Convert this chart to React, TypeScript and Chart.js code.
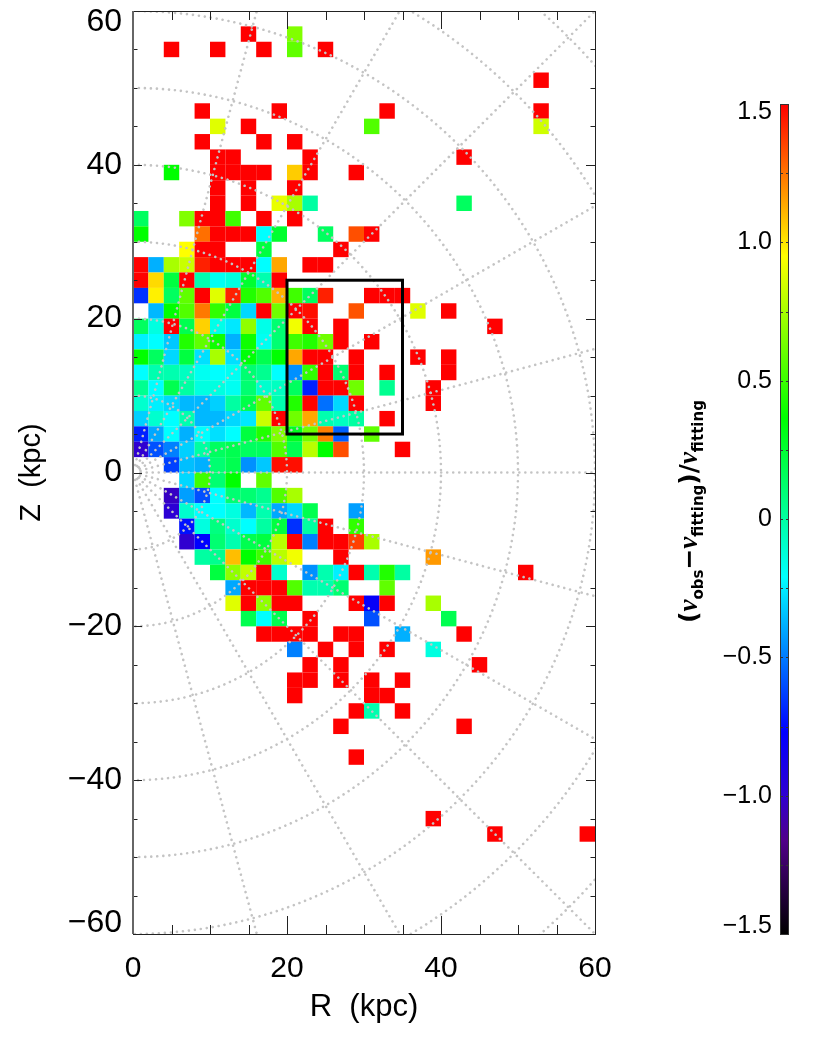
import React, { useEffect, useRef } from "react";
import Chart from "chart.js/auto";

// Each row: Z centre (kpc), then pairs [R centre, residual]
const X = 1.5; // saturated residual
const rowZ = [57,55,51,47,45,43,41,39,37,35,33,31,29,27,25,23,21,19,17,15,13,11,9,7,5,3,1,-1,-3,-5,-7,-9,-11,-13,-15,-17,-19,-21,-23,-25,-27,-29,-31,-33,-37,-45,-47];
const rowCells: number[][][] = [
  [[15,X],[21,.66]],
  [[5,X],[11,X],[17,X],[21,.585],[25,X]],
  [[53,X]],
  [[9,X],[19,X],[33,X],[53,X]],
  [[11,.88],[15,X],[31,.55],[53,.84]],
  [[9,X],[17,X],[21,X]],
  [[11,X],[13,X],[23,X],[43,X]],
  [[5,.365],[11,X],[13,X],[15,X],[17,X],[21,1.06],[23,X],[29,X]],
  [[11,X],[15,X],[21,X]],
  [[11,X],[15,X],[19,.9],[21,.75],[23,0],[43,.15]],
  [[1,.15],[7,.66],[9,X],[11,X],[13,.51],[17,X],[21,X]],
  [[1,.365],[9,1.26],[11,X],[13,X],[15,X],[17,-.21],[19,.26],[25,.15],[29,1.33],[31,X]],
  [[7,.95],[9,X],[11,X],[17,.22],[27,X]],
  [[1,X],[3,-.383],[5,.75],[7,.825],[9,1.43],[11,X],[13,X],[15,X],[17,-.21],[19,1.14],[23,X],[25,X]],
  [[1,X],[3,1.03],[5,.22],[7,X],[9,-.03],[11,-.18],[13,-.14],[15,.257],[17,-.03],[19,X]],
  [[1,-.664],[3,.98],[5,.15],[7,.585],[9,X],[11,.88],[13,1.43],[15,.44],[17,.55],[19,1.12],[21,.51],[23,.15],[25,1.43],[31,X],[33,X],[35,X]],
  [[3,-.366],[5,.365],[7,.55],[9,1.24],[11,.475],[13,.22],[15,-.296],[17,X],[19,.62],[21,X],[23,1.47],[29,1.32],[37,.88],[41,X]],
  [[1,.15],[3,-.14],[5,X],[7,.185],[9,1.05],[11,-.16],[13,-.26],[15,.695],[17,-.16],[19,.11],[21,.92],[23,X],[27,X],[47,X]],
  [[1,-.24],[3,-.21],[5,-.33],[7,.44],[9,.585],[11,.4],[13,-.383],[15,.4],[17,-.18],[19,.11],[21,.51],[23,.44],[25,.62],[27,X],[31,X]],
  [[1,.365],[3,.15],[5,-.296],[7,.22],[9,-.278],[11,.75],[13,-.278],[15,.35],[17,.185],[19,.365],[21,1.14],[23,X],[25,X],[29,X],[37,X],[41,X]],
  [[1,-.21],[3,-.03],[5,-.03],[7,-.07],[9,-.18],[11,-.21],[13,-.18],[15,.11],[17,.04],[19,-.21],[21,-.454],[23,.475],[25,X],[27,.11],[29,X],[33,X],[41,X]],
  [[1,.04],[3,-.21],[5,.185],[7,0],[9,-.14],[11,-.14],[13,-.18],[15,.11],[17,-.1],[19,-.07],[21,.15],[23,-.7],[25,X],[27,X],[29,.62],[33,.04],[39,X]],
  [[1,-.1],[3,-.243],[5,-.296],[7,-.366],[9,-.366],[11,-.313],[13,0],[15,.2],[17,.585],[19,-.03],[21,.44],[23,X],[25,-.524],[27,-.296],[29,X],[39,X]],
  [[1,-.313],[3,-.1],[5,-.21],[7,-.03],[9,-.366],[11,-.366],[13,-.296],[15,-.26],[17,.825],[19,X],[21,.62],[23,1.14],[25,-.03],[27,-.07],[29,0],[33,X]],
  [[1,-.7],[3,-.4],[5,-.21],[7,-.383],[9,-.21],[11,-.278],[13,-.21],[15,.22],[17,.44],[19,.66],[21,.29],[23,.62],[25,1.225],[27,-.559],[31,.585]],
  [[1,-1],[3,-.594],[5,-.489],[7,-.313],[9,0],[11,.15],[13,.185],[15,.15],[17,.15],[19,.55],[21,.185],[23,.79],[25,.365],[27,1.33],[35,X]],
  [[5,-.63],[7,-.35],[9,-.383],[11,.11],[13,.185],[15,-.454],[17,-.33],[19,1.47],[21,1.47]],
  [[7,-.296],[9,.51],[11,.11],[13,.365],[17,.585]],
  [[5,-1.03],[7,-.42],[9,-.594],[11,-.21],[13,.11],[15,.11],[17,.04],[19,.55],[21,.75]],
  [[5,-.98],[7,-.1],[9,-.21],[11,-.21],[13,-.14],[15,-.366],[17,-.03],[19,-.4],[21,-.296],[23,.185],[29,-.42]],
  [[7,-.735],[9,-.14],[11,.077],[13,-.1],[15,-.21],[17,0],[19,.22],[21,-.664],[23,0],[25,X],[29,.475]],
  [[7,-1],[9,-.77],[11,.11],[13,-.03],[15,.185],[17,.22],[19,.79],[21,X],[23,-.489],[25,X],[27,X],[29,1.36],[31,.75]],
  [[9,0],[11,.04],[13,1.09],[15,.365],[17,.51],[19,.79],[21,.92],[27,X],[39,1.17]],
  [[11,.22],[13,.695],[15,.805],[17,X],[19,-.1],[23,-.454],[25,-.03],[27,-.243],[29,X],[31,-.03],[33,.44],[35,0],[51,X]],
  [[13,-.4],[15,X],[17,X],[19,X],[21,.55],[23,-.03],[25,-.03],[27,.11],[33,.585]],
  [[13,.88],[15,X],[17,.695],[19,X],[21,X],[29,X],[31,-.8],[33,X],[39,.75]],
  [[15,.185],[17,-.21],[19,.185],[23,X],[31,-.594],[41,.185]],
  [[17,X],[19,X],[21,X],[23,X],[27,X],[29,X],[35,-.383],[43,X]],
  [[21,-.489],[25,X],[29,X],[33,X],[39,-.14]],
  [[23,X],[27,X],[45,X]],
  [[21,X],[23,X],[27,X],[31,X],[35,X]],
  [[21,X],[31,X],[33,X]],
  [[29,X],[31,-.03],[35,X]],
  [[27,X],[43,X]],
  [[29,X]],
  [[39,X]],
  [[47,X],[59,X]],
];

// colour scale anchors
const scaleValues = [-1.5, -1.16, -1.0, -0.77, -0.21, 0.365, 0.95, 1.5];
const scaleColors = [[0,0,0],[80,0,138],[48,0,208],[0,0,255],[0,255,255],[0,255,0],[255,255,0],[255,0,0]];

const selectedBox = { r0: 20, r1: 35, z0: 5, z1: 25 };
const circleRadii = [1, 10, 20, 30, 40, 50, 60, 70, 80];
const rayAngles = [-75, -60, -45, -30, -15, 0, 15, 30, 45, 60, 75];

const SANS = "'Liberation Sans', sans-serif";
const minus = (s: string) => s.replace("-", "\u2212");

function colorOf(v: number): string {
  const c = Math.max(-1.5, Math.min(1.5, v));
  let i = 0;
  while (i < scaleValues.length - 2 && c > scaleValues[i + 1]) i++;
  const t = (c - scaleValues[i]) / (scaleValues[i + 1] - scaleValues[i]);
  const a = scaleColors[i], b = scaleColors[i + 1];
  return `rgb(${[0, 1, 2].map((k) => Math.round(a[k] + (b[k] - a[k]) * t)).join(",")})`;
}

const cellPoints = rowZ.flatMap((z, i) => rowCells[i].map(([r, v]) => ({ x: r, y: z, v })));

function strokeLine(ctx: CanvasRenderingContext2D, x0: number, y0: number, x1: number, y1: number) {
  ctx.beginPath();
  ctx.moveTo(x0, y0);
  ctx.lineTo(x1, y1);
  ctx.stroke();
}

const overlayPlugin = {
  id: "overlay",
  afterDatasetsDraw(chart: any) {
    const { ctx, chartArea: a, scales } = chart;
    const sx = scales.x, sy = scales.y;
    const ox = sx.getPixelForValue(0), oy = sy.getPixelForValue(0);
    const pxX = sx.getPixelForValue(1) - ox, pxY = oy - sy.getPixelForValue(1);

    ctx.save();
    ctx.beginPath();
    ctx.rect(a.left, a.top, a.right - a.left, a.bottom - a.top);
    ctx.clip();
    ctx.strokeStyle = "#c4c4c4";
    ctx.lineWidth = 2.6;
    ctx.lineCap = "round";
    ctx.setLineDash([0.01, 6]);
    for (const r of circleRadii) {
      ctx.beginPath();
      ctx.ellipse(ox, oy, r * pxX, r * pxY, 0, -Math.PI / 2, Math.PI / 2);
      ctx.stroke();
    }
    for (const deg of rayAngles) {
      const t = (deg * Math.PI) / 180;
      strokeLine(ctx, ox + pxX * Math.cos(t), oy - pxY * Math.sin(t), ox + 100 * pxX * Math.cos(t), oy - 100 * pxY * Math.sin(t));
    }
    ctx.restore();

    ctx.save();
    ctx.setLineDash([]);
    ctx.strokeStyle = "#000";
    ctx.lineWidth = 3;
    const bx0 = sx.getPixelForValue(selectedBox.r0), bx1 = sx.getPixelForValue(selectedBox.r1);
    const by0 = sy.getPixelForValue(selectedBox.z1), by1 = sy.getPixelForValue(selectedBox.z0);
    ctx.strokeRect(bx0, by0, bx1 - bx0, by1 - by0);

    ctx.strokeStyle = "#222";
    ctx.lineWidth = 1;
    for (const t of sx.ticks) {
      const p = Math.round(sx.getPixelForValue(t.value)) + 0.5;
      const len = t.value % 20 === 0 ? 18 : 9;
      strokeLine(ctx, p, a.bottom, p, a.bottom - len);
      strokeLine(ctx, p, a.top, p, a.top + len);
    }
    for (const t of sy.ticks) {
      const p = Math.round(sy.getPixelForValue(t.value)) + 0.5;
      const len = t.value % 20 === 0 ? 9 : 4.5;
      strokeLine(ctx, a.left, p, a.left + len, p);
      strokeLine(ctx, a.right, p, a.right - len, p);
    }
    ctx.strokeRect(a.left + 0.5, a.top + 0.5, a.right - a.left, a.bottom - a.top);
    ctx.strokeStyle = "#666";
    ctx.lineWidth = 2;
    strokeLine(ctx, a.left, a.top, a.left, a.bottom);
    ctx.restore();
  },
};

const colorbarPlugin = {
  id: "colorbarFrame",
  afterDatasetsDraw(chart: any) {
    const { ctx, chartArea: a, scales } = chart;
    const sy = scales.y;
    ctx.save();
    ctx.strokeStyle = "#333";
    ctx.lineWidth = 1;
    ctx.strokeRect(a.left + 0.5, a.top + 0.5, a.right - a.left - 1, a.bottom - a.top);
    for (const t of sy.ticks) {
      const p = Math.round(sy.getPixelForValue(t.value)) + 0.5;
      strokeLine(ctx, a.left, p, a.left + 3, p);
      strokeLine(ctx, a.right, p, a.right - 3, p);
    }
    ctx.restore();

    // rotated title with subscripts
    const big = "bold 25px 'DejaVu Sans', sans-serif";
    const greek = "italic bold 27px 'Liberation Serif', serif";
    const sub = "bold 15px 'DejaVu Sans', sans-serif";
    const parts: [string, string, number][] = [
      ["(", big, 0], ["\u03bd", greek, 0], ["obs", sub, 6], ["\u2212", big, 0],
      ["\u03bd", greek, 0], ["fitting", sub, 6], [")", big, 0], ["/", big, 0],
      ["\u03bd", greek, 0], ["fitting", sub, 6],
    ];
    ctx.save();
    ctx.translate(97, 623);
    ctx.rotate(-Math.PI / 2);
    ctx.fillStyle = "#000";
    ctx.textBaseline = "alphabetic";
    let x = 0;
    for (const [s, f, dy] of parts) {
      ctx.font = f;
      ctx.fillText(s, x, dy);
      x += ctx.measureText(s).width;
    }
    ctx.restore();
  },
};

const noOverflow = (s: any) => {
  s.paddingTop = 0;
  s.paddingBottom = 0;
  s.paddingLeft = 0;
  s.paddingRight = 0;
};

export default function App() {
  const mainRef = useRef<HTMLCanvasElement>(null);
  const barRef = useRef<HTMLCanvasElement>(null);

  useEffect(() => {
    const main = new Chart(mainRef.current!, {
      type: "scatter",
      data: {
        datasets: [
          {
            data: cellPoints,
            pointStyle: "rect",
            pointRadius: 10.92,
            pointBorderWidth: 0,
            pointBackgroundColor: cellPoints.map((p) => colorOf(p.v)),
          },
        ],
      },
      options: {
        animation: false,
        responsive: false,
        layout: { padding: { top: 11, right: 235, left: 0, bottom: 0 } },
        plugins: { legend: { display: false }, tooltip: { enabled: false } },
        scales: {
          x: {
            type: "linear",
            min: 0,
            max: 60,
            afterFit: (s: any) => { s.height = 104; noOverflow(s); },
            grid: { display: false, drawTicks: false },
            border: { display: false },
            ticks: {
              stepSize: 5,
              autoSkip: false,
              maxRotation: 0,
              padding: 17,
              color: "#000",
              font: { family: SANS, size: 30 },
              callback: (v: any) => (v % 20 === 0 ? String(v) : ""),
            },
            title: {
              display: true,
              text: "R  (kpc)",
              color: "#000",
              font: { family: SANS, size: 31 },
              padding: { top: 0, bottom: 12 },
            },
          },
          y: {
            type: "linear",
            min: -60,
            max: 60,
            afterFit: (s: any) => { s.width = 133; noOverflow(s); },
            grid: { display: false, drawTicks: false },
            border: { display: false },
            ticks: {
              stepSize: 5,
              autoSkip: false,
              padding: 11,
              color: "#000",
              font: { family: SANS, size: 32, lineHeight: "22px" },
              callback: (v: any) => {
                if (v % 20 !== 0) return "";
                const s = minus(String(v));
                if (v === 60) return ["", s];
                if (v === -60) return [s, ""];
                return s;
              },
            },
            title: {
              display: true,
              text: "Z  (kpc)",
              color: "#000",
              font: { family: SANS, size: 29 },
              padding: { top: 15, bottom: 0 },
            },
          },
        },
      },
      plugins: [overlayPlugin],
    } as any);

    const bar = new Chart(barRef.current!, {
      type: "bar",
      data: {
        labels: [""],
        datasets: [
          {
            data: [[-1.5, 1.5]],
            barPercentage: 1,
            categoryPercentage: 1,
            backgroundColor: (c: any) => {
              const area = c.chart.chartArea;
              if (!area || !Number.isFinite(area.top) || !Number.isFinite(area.bottom)) return "#000";
              const g = c.chart.ctx.createLinearGradient(0, area.bottom, 0, area.top);
              scaleValues.forEach((v) => g.addColorStop((v + 1.5) / 3, colorOf(v)));
              return g;
            },
          },
        ],
      },
      options: {
        animation: false,
        responsive: false,
        layout: { padding: { top: 104, right: 41, left: 0, bottom: 104 } },
        plugins: { legend: { display: false }, tooltip: { enabled: false } },
        scales: {
          x: { display: false },
          y: {
            type: "linear",
            min: -1.5,
            max: 1.5,
            afterFit: (s: any) => { s.width = 180; noOverflow(s); },
            grid: { display: false, drawTicks: false },
            border: { display: false },
            ticks: {
              stepSize: 0.25,
              autoSkip: false,
              padding: 8,
              color: "#000",
              font: { family: SANS, size: 25, lineHeight: "16px" },
              callback: (v: any) => {
                if (Math.abs(v * 2 - Math.round(v * 2)) > 1e-6) return "";
                const s = minus(Math.abs(v) < 1e-6 ? "0" : Number(v).toFixed(1));
                if (v >= 1.5) return ["", s];
                if (v <= -1.5) return [s, ""];
                return s;
              },
            },
          },
        },
      },
      plugins: [colorbarPlugin],
    } as any);
    bar.update();

    return () => {
      main.destroy();
      bar.destroy();
    };
  }, []);

  return (
    <div style={{ position: "absolute", left: 0, top: 0, width: 830, height: 1038, background: "#fff" }}>
      <canvas ref={mainRef} width={830} height={1038} style={{ position: "absolute", left: 0, top: 0 }} />
      <canvas ref={barRef} width={230} height={1038} style={{ position: "absolute", left: 600, top: 0 }} />
    </div>
  );
}
